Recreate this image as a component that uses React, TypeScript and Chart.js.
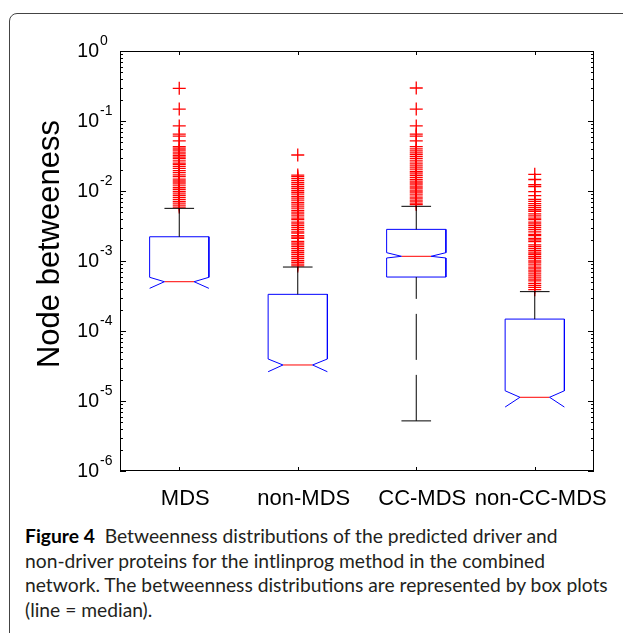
import React, { useEffect, useRef } from "react";
import { Chart, registerables } from "chart.js";

Chart.register(...registerables);

// ---------- data ----------
const categories = ["MDS", "non-MDS", "CC-MDS", "non-CC-MDS"];
const q3 = [0.00222, 0.000334, 0.00283, 0.000148];
const notchHi = [0.000585, 0.0000398, 0.001315, 0.000014];
const medians = [0.000506, 0.0000327, 0.001167, 0.0000113];
const notchLo = [0.000407, 0.0000262, 0.001104, 0.0000082];
const q1: (number | null)[] = [null, null, 0.00059, null];
const whiskerHi = [0.00565, 0.00082, 0.00604, 0.000365];
const whiskerLo: (number | null)[] = [null, null, 0.0000052, null];

const outliersMDS = [
  0.293, 0.148, 0.085, 0.065, 0.061, 0.052, 0.043, 0.041, 0.0385, 0.036, 0.034,
  0.032, 0.0305, 0.029, 0.027, 0.025, 0.024, 0.0225, 0.021, 0.0195, 0.0183,
  0.017, 0.016, 0.0148, 0.0139, 0.013, 0.0121, 0.0113, 0.0106, 0.0099, 0.0093,
  0.0087, 0.0081, 0.0076, 0.0071, 0.0067, 0.0063, 0.0059,
];
const outliersNonMDS = [
  0.0327, 0.0169, 0.016, 0.015, 0.0141, 0.0132, 0.0124, 0.0116, 0.0109, 0.0102,
  0.0096, 0.009, 0.0084, 0.0079, 0.0074, 0.0069, 0.0065, 0.0061, 0.0057, 0.0053,
  0.005, 0.0047, 0.0044, 0.0041, 0.0039, 0.0036, 0.0034, 0.0032, 0.003, 0.0028,
  0.0026, 0.0025, 0.0023, 0.0022, 0.0021, 0.0019, 0.0018, 0.0017, 0.0016,
  0.0015, 0.0014, 0.00132, 0.00124, 0.00116, 0.00109, 0.00102, 0.00096, 0.0009,
  0.00085,
];
const outliersCCMDS = [
  0.296, 0.148, 0.085, 0.065, 0.061, 0.052, 0.043, 0.04, 0.0375, 0.035, 0.033,
  0.031, 0.029, 0.027, 0.025, 0.0235, 0.022, 0.0205, 0.019, 0.018, 0.0168,
  0.0157, 0.0147, 0.0138, 0.013, 0.0122, 0.0114, 0.0107, 0.01, 0.0094, 0.0088,
  0.0082, 0.0077, 0.0072, 0.0067, 0.0064,
];
const outliersNonCCMDS = [
  0.0173, 0.0146, 0.0123, 0.0116, 0.0098, 0.0086, 0.0076, 0.0071, 0.0066,
  0.0062, 0.0058, 0.0054, 0.0051, 0.0047, 0.0044, 0.0041, 0.0039, 0.0036,
  0.0034, 0.0032, 0.003, 0.0028, 0.0026, 0.0024, 0.0023, 0.0021, 0.002, 0.0019,
  0.0017, 0.0016, 0.0015, 0.0014, 0.0013, 0.00123, 0.00115, 0.00108, 0.001,
  0.00094, 0.00088, 0.00082, 0.00077, 0.00072, 0.00067, 0.00063, 0.00059,
  0.00055, 0.00052, 0.00048, 0.00045, 0.00042, 0.00039,
];
const outliers = [outliersMDS, outliersNonMDS, outliersCCMDS, outliersNonCCMDS];

const yTickExponents = [0, -1, -2, -3, -4, -5, -6];
const yTitle = "Node betweeness";
const captionLines = [
  "Betweenness distributions of the predicted driver and",
  "non-driver proteins for the intlinprog method in the combined",
  "network. The betweenness distributions are represented by box plots",
  "(line = median).",
];

// ---------- geometry / styles ----------
const BOX_HALF = 0.25;
const INSET_HALF = 0.125;
const BLUE = "#0000ff";
const RED = "#ff0000";
const BLACK = "#000000";
const TICK_FONT = "Liberation Sans, Arial, sans-serif";
const XLABEL_SHIFT = 6;

function buildDatasets() {
  const ds: any[] = [];
  const line = (data: any[], color: string, dash: number[] = []) => ({
    data,
    showLine: true,
    borderColor: color,
    borderWidth: 1,
    borderDash: dash,
    pointRadius: 0,
    fill: false,
    tension: 0,
  });
  categories.forEach((_, i) => {
    const x = i + 1;
    // whiskers (drawn from the cap toward the box)
    ds.push(line([{ x, y: whiskerHi[i] }, { x, y: q3[i] }], BLACK, [46, 15]));
    ds.push(line([{ x: x - INSET_HALF, y: whiskerHi[i] }, { x: x + INSET_HALF, y: whiskerHi[i] }], BLACK));
    if (whiskerLo[i] !== null && q1[i] !== null) {
      ds.push(line([{ x, y: whiskerLo[i] }, { x, y: q1[i] }], BLACK, [46, 15]));
      ds.push(line([{ x: x - INSET_HALF, y: whiskerLo[i] }, { x: x + INSET_HALF, y: whiskerLo[i] }], BLACK));
    }
    // notched box
    const L = x - BOX_HALF, R = x + BOX_HALF, iL = x - INSET_HALF, iR = x + INSET_HALF;
    const pts: any[] = [];
    if (q1[i] !== null) pts.push({ x: L, y: q1[i] });
    pts.push(
      { x: L, y: notchLo[i] },
      { x: iL, y: medians[i] },
      { x: L, y: notchHi[i] },
      { x: L, y: q3[i] },
      { x: R, y: q3[i] },
      { x: R, y: notchHi[i] },
      { x: iR, y: medians[i] },
      { x: R, y: notchLo[i] }
    );
    if (q1[i] !== null) {
      pts.push({ x: R, y: q1[i] }, { x: L, y: q1[i] });
    }
    ds.push(line(pts, BLUE));
    // median
    ds.push(line([{ x: iL, y: medians[i] }, { x: iR, y: medians[i] }], RED));
  });
  // outliers
  categories.forEach((_, i) => {
    ds.push({
      data: outliers[i].map((v) => ({ x: i + 1, y: v })),
      showLine: false,
      pointStyle: "cross",
      pointRadius: 6.5,
      pointBorderColor: RED,
      pointBackgroundColor: RED,
      pointBorderWidth: 1.3,
      borderColor: RED,
    });
  });
  return ds;
}

const framePlugin = {
  id: "matlabFrame",
  afterDraw(chart: any) {
    const { ctx, chartArea, scales } = chart;
    const xs = scales.x, ys = scales.y;
    const { left, right, top, bottom } = chartArea;
    ctx.save();
    ctx.strokeStyle = BLACK;
    ctx.lineWidth = 1;
    ctx.strokeRect(left + 0.5, top + 0.5, right - left - 1, bottom - top - 1);
    ctx.beginPath();
    // y ticks (major + minor), inward on both sides
    yTickExponents.forEach((e) => {
      const y = Math.round(ys.getPixelForValue(Math.pow(10, e))) + 0.5;
      ctx.moveTo(left, y); ctx.lineTo(left + 6, y);
      ctx.moveTo(right, y); ctx.lineTo(right - 6, y);
      if (e > -6) {
        for (let m = 2; m <= 9; m++) {
          const yy = Math.round(ys.getPixelForValue(m * Math.pow(10, e - 1))) + 0.5;
          ctx.moveTo(left, yy); ctx.lineTo(left + 3, yy);
          ctx.moveTo(right, yy); ctx.lineTo(right - 3, yy);
        }
      }
    });
    // x ticks
    categories.forEach((_, i) => {
      const x = Math.round(xs.getPixelForValue(i + 1)) + 0.5;
      ctx.moveTo(x, top); ctx.lineTo(x, top + 4);
      ctx.moveTo(x, bottom); ctx.lineTo(x, bottom - 4);
    });
    ctx.stroke();

    // y tick labels 10^e
    ctx.fillStyle = BLACK;
    yTickExponents.forEach((e) => {
      const y = ys.getPixelForValue(Math.pow(10, e));
      ctx.font = `19.5px ${TICK_FONT}`;
      ctx.textAlign = "right";
      ctx.textBaseline = "alphabetic";
      ctx.fillText("10", 99, y + 5.5);
      ctx.font = `14px ${TICK_FONT}`;
      ctx.textAlign = "left";
      ctx.fillText(String(e), 100, y - 6.5);
    });
    // x category labels
    ctx.font = `22px ${TICK_FONT}`;
    ctx.textAlign = "center";
    categories.forEach((c, i) => {
      ctx.fillText(c, xs.getPixelForValue(i + 1) + XLABEL_SHIFT, 505);
    });
    // y title
    ctx.save();
    ctx.translate(50, 244);
    ctx.rotate(-Math.PI / 2);
    ctx.font = `31px ${TICK_FONT}`;
    ctx.textAlign = "center";
    ctx.textBaseline = "middle";
    ctx.fillText(yTitle, 0, 0);
    ctx.restore();
    ctx.restore();
  },
};

function BoxChart() {
  const ref = useRef<HTMLCanvasElement>(null);
  useEffect(() => {
    if (!ref.current) return;
    const chart = new Chart(ref.current, {
      type: "scatter",
      data: { datasets: buildDatasets() },
      options: {
        animation: false,
        responsive: false,
        devicePixelRatio: 1,
        events: [],
        layout: { padding: { left: 120, top: 51, right: 29, bottom: 49 } },
        plugins: { legend: { display: false }, tooltip: { enabled: false } },
        scales: {
          x: { type: "linear", min: 0.5, max: 4.5, display: false },
          y: { type: "logarithmic", min: 1e-6, max: 1, display: false },
        },
      },
      plugins: [framePlugin],
    });
    return () => chart.destroy();
  }, []);
  return (
    <canvas
      ref={ref}
      width={623}
      height={520}
      style={{ position: "absolute", left: 0, top: 0, width: 623, height: 520 }}
    />
  );
}

export default function App() {
  return (
    <div
      style={{
        position: "absolute",
        left: 0,
        top: 0,
        width: 623,
        height: 633,
        overflow: "hidden",
        background: "#fff",
      }}
    >
      <div
        style={{
          position: "absolute",
          left: 9,
          top: 13,
          width: 800,
          height: 800,
          border: "1px solid #444",
          borderRadius: 8,
        }}
      />
      <BoxChart />
      <div
        style={{
          position: "absolute",
          left: 25,
          top: 524,
          fontFamily: "Lato, sans-serif",
          fontSize: 19.25,
          lineHeight: "24.6px",
          color: "#231f20",
        }}
      >
        {captionLines.map((t, i) => (
          <div key={i} style={{ whiteSpace: "nowrap" }}>
            {i === 0 ? (
              <>
                <b style={{ color: "#000" }}>Figure 4</b>
                {"\u00a0 "}
              </>
            ) : null}
            {t}
          </div>
        ))}
      </div>
    </div>
  );
}
